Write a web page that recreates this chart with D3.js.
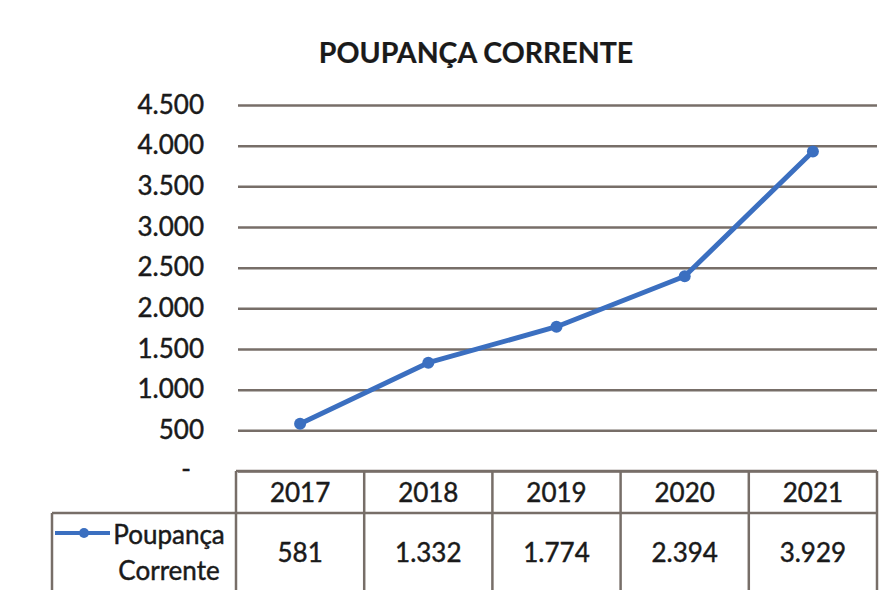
<!DOCTYPE html>
<html>
<head>
<meta charset="utf-8">
<script src="https://cdn.jsdelivr.net/npm/d3@7"></script>
<style>
  body { margin: 0; background: #fff; }
  text { font-family: Lato, "Open Sans", sans-serif; fill: #1a1a1a; stroke: #1a1a1a; stroke-width: 0.45px; }
</style>
</head>
<body>
<svg></svg>
<script>
// dados do gráfico
const anos = ["2017", "2018", "2019", "2020", "2021"];
const poupanca = [581, 1332, 1774, 2394, 3929];
const ticksY = [0, 500, 1000, 1500, 2000, 2500, 3000, 3500, 4000, 4500];
const titulo = "POUPANÇA CORRENTE";
const serieNome = ["Poupança", "Corrente"];

const W = 893, H = 590;
const svg = d3.select("svg").attr("width", W).attr("height", H);

const margemEsq = 236, margemDir = 877, yTopo = 105, yBase = 471;
const azul = "#3b6fc0";
const cinza = "#776e68";

// formato com ponto de milhar
const fmt = d => d === 0 ? "-" : d3.format(",")(d).replace(/,/g, ".");

const x = d3.scaleBand().domain(anos).range([margemEsq, margemDir]);
const y = d3.scaleLinear().domain([0, 4500]).range([yBase, yTopo]);

// título
svg.append("text")
    .attr("x", 476).attr("y", 63)
    .attr("text-anchor", "middle")
    .attr("font-size", 28.5).attr("font-weight", "bold")
    .style("stroke-width", "0.2px")
    .text(titulo);

// eixo Y com linhas de grade
const eixoY = svg.append("g")
    .attr("transform", `translate(${margemEsq},0)`)
    .call(d3.axisLeft(y).tickValues(ticksY).tickFormat(fmt)
        .tickSize(-(margemDir - margemEsq)).tickPadding(32));
eixoY.select(".domain").remove();
eixoY.selectAll(".tick line")
    .attr("stroke", cinza).attr("stroke-width", 2.5)
    .attr("x1", 2);
eixoY.selectAll(".tick text")
    .attr("font-size", 26).attr("fill", "#1a1a1a")
    .attr("font-family", "Lato, sans-serif")
    .attr("dx", d => d === 0 ? -13 : 0)
    .attr("dy", d => d === 0 ? "0.25em" : "0.32em");

// tabela de dados
const tab = svg.append("g");
const linhaTopo = yBase, linhaMeio = 513;
tab.append("line")
    .attr("x1", margemEsq).attr("x2", margemDir)
    .attr("y1", linhaTopo).attr("y2", linhaTopo);
tab.append("line")
    .attr("x1", 52).attr("x2", margemDir)
    .attr("y1", linhaMeio).attr("y2", linhaMeio);
tab.append("line")
    .attr("x1", 52).attr("x2", 52)
    .attr("y1", linhaMeio).attr("y2", H);
const bordas = anos.map(a => x(a)).concat([margemDir]);
tab.selectAll(".vline").data(bordas).enter().append("line")
    .attr("x1", d => d).attr("x2", d => d)
    .attr("y1", linhaTopo).attr("y2", H);
tab.selectAll("line").attr("stroke", cinza).attr("stroke-width", 2.5);

tab.selectAll(".ano").data(anos).enter().append("text")
    .attr("x", d => x(d) + x.bandwidth() / 2).attr("y", 502)
    .attr("text-anchor", "middle").attr("font-size", 26)
    .text(d => d);

tab.selectAll(".valor").data(poupanca).enter().append("text")
    .attr("x", (d, i) => x(anos[i]) + x.bandwidth() / 2).attr("y", 562)
    .attr("text-anchor", "middle").attr("font-size", 26)
    .text(d => fmt(d));

// legenda
tab.append("line")
    .attr("x1", 55).attr("x2", 110).attr("y1", 533).attr("y2", 533)
    .attr("stroke", azul).attr("stroke-width", 4);
tab.append("circle")
    .attr("cx", 84).attr("cy", 533).attr("r", 5).attr("fill", azul);
tab.selectAll(".leg").data(serieNome).enter().append("text")
    .attr("x", 169).attr("y", (d, i) => 544 + i * 36)
    .attr("text-anchor", "middle").attr("font-size", 26)
    .text(d => d);

// linha da série
const linha = d3.line()
    .x((d, i) => x(anos[i]) + x.bandwidth() / 2)
    .y(d => y(d));

svg.append("path")
    .datum(poupanca)
    .attr("d", linha)
    .attr("fill", "none")
    .attr("stroke", azul)
    .attr("stroke-width", 5)
    .attr("stroke-linejoin", "round");

svg.selectAll(".ponto").data(poupanca).enter().append("circle")
    .attr("cx", (d, i) => x(anos[i]) + x.bandwidth() / 2)
    .attr("cy", d => y(d))
    .attr("r", 6)
    .attr("fill", azul);
</script>
</body>
</html>
